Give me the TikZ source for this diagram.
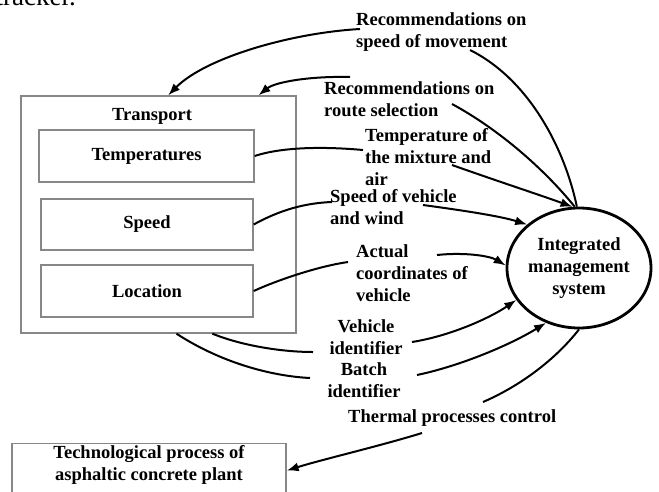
\documentclass[tikz,border=0pt]{standalone}
\usepackage{fontspec}
\setmainfont{Liberation Serif}
\usetikzlibrary{arrows.meta,shapes.geometric,calc}
\definecolor{boxgray}{RGB}{135,135,135}
\def\mystrut{\rule{0pt}{14pt}}
\begin{document}
\begin{tikzpicture}[x=1pt,y=-1pt,
  lblfont/.style={font=\bfseries\fontsize{18.5}{22}\selectfont},
  lbl/.style={lblfont, inner sep=0pt, anchor=north west, align=left},
  clbl/.style={lblfont, inner sep=0pt, anchor=north, align=center},
  gbox/.style={draw=boxgray, line width=1.3pt, inner sep=0pt, lblfont},
  conn/.style={line width=2pt},
  arr/.style={conn, -{Latex[length=12pt,width=9pt]}},
]
\useasboundingbox (0,0) rectangle (659,491);
\clip (0,0) rectangle (659,491);

% fragment of body text above the figure
\node[font=\fontsize{27}{30}\selectfont, anchor=base west, inner sep=0pt] (trk) at (-4.5,5) {tracker.};

% Transport block
\node[gbox, minimum width=275pt, minimum height=237pt] (transport) at (158.5,214.5) {};
\node[lblfont, anchor=base, inner sep=0pt] (tlabel) at (152,120) {Transport};
\node[gbox, minimum width=215pt, minimum height=52pt] (tempbox) at (146.5,156) {Temperatures};
\node[gbox, minimum width=212pt, minimum height=51pt] (speedbox) at (147,224.5) {Speed};
\node[gbox, minimum width=212pt, minimum height=52pt] (locbox) at (147,291) {Location};

% Technological process block (cut off at the bottom)
\node[gbox, anchor=north, align=center, minimum width=274pt, inner ysep=1pt] (tech) at (149,443)
  {\mystrut Technological process of\\asphaltic concrete plant\rule[-16pt]{0pt}{16pt}};

% Integrated management system
\node[draw, ellipse, line width=2.8pt, minimum width=144pt, minimum height=120pt, inner sep=0pt,
      align=center, lblfont] (ims) at (579,268) {Integrated\\management\\system};

% labels
\node[lbl] (rec1) at (356,11) {\mystrut Recommendations on\\speed of movement};
\node[lbl] (rec2) at (324,80) {\mystrut Recommendations on\\route selection};
\node[lbl] (templ) at (365,127) {\mystrut Temperature of\\the mixture and\\air};
\node[lbl] (speedl) at (330,188) {\mystrut Speed of vehicle\\and wind};
\node[lbl] (actl) at (356,243) {\mystrut Actual\\coordinates of\\vehicle};
\node[clbl] (vehl) at (366,318) {\mystrut Vehicle\\identifier};
\node[clbl] (batl) at (364,361) {\mystrut Batch\\identifier};
\node[lbl] (therl) at (348,408) {\mystrut Thermal processes control};

% break points of the connectors around the labels
\coordinate (r1a) at (470,50);
\coordinate (r1b) at (360,29);
\coordinate (r2a) at (452,104);
\coordinate (r2b) at (350,77);
\coordinate (tma) at (363,150);
\coordinate (tmb) at (452,165);
\coordinate (spa) at (332,202);
\coordinate (spb) at (423,205);
\coordinate (aca) at (348,262);
\coordinate (acb) at (437,255);
\coordinate (vea) at (313,352);
\coordinate (veb) at (412,342);
\coordinate (baa) at (310,378);
\coordinate (bab) at (417,375);
\coordinate (tha) at (483,402);
\coordinate (thb) at (422,433);
\coordinate (tp1) at ($(transport.north west)!0.535!(transport.north east)$);
\coordinate (tp2) at ($(transport.north west)!0.862!(transport.north east)$);
\coordinate (bt1) at ($(transport.south west)!0.695!(transport.south east)$);
\coordinate (bt2) at ($(transport.south west)!0.565!(transport.south east)$);

% recommendations on speed of movement
\draw[conn] (ims.92) .. controls (565,150) and (530,80) .. (r1a);
\draw[arr] (r1b) .. controls (290,33) and (205,58) .. (tp1);
% recommendations on route selection
\draw[conn] (ims.94) .. controls (545,170) and (500,130) .. (r2a);
\draw[arr] (r2b) .. controls (310,76) and (275,82) .. (tp2);
% temperature
\draw[conn] (tempbox.east) .. controls (285,146) and (330,147) .. (tma);
\draw[arr] (tmb) .. controls (500,182) and (540,195) .. (ims.96);
% speed
\draw[conn] (speedbox.east) .. controls (280,210) and (305,203) .. (spa);
\draw[arr] (spb) .. controls (460,210) and (500,216) .. (ims.140);
% actual coordinates
\draw[conn] (locbox.east) .. controls (280,279) and (320,266) .. (aca);
\draw[arr] (acb) .. controls (465,252) and (490,256) .. (ims.178);
% vehicle identifier
\draw[conn] (bt1) .. controls (240,345) and (280,352) .. (vea);
\draw[arr] (veb) .. controls (450,336) and (490,318) .. (ims.207);
% batch identifier
\draw[conn] (bt2) .. controls (220,362) and (270,376) .. (baa);
\draw[arr] (bab) .. controls (460,366) and (510,345) .. (ims.239);
% thermal processes control
\draw[conn] (ims.270) .. controls (555,360) and (520,386) .. (tha);
\draw[arr] (thb) .. controls (380,446) and (320,460) .. (tech.east);
\end{tikzpicture}
\end{document}
